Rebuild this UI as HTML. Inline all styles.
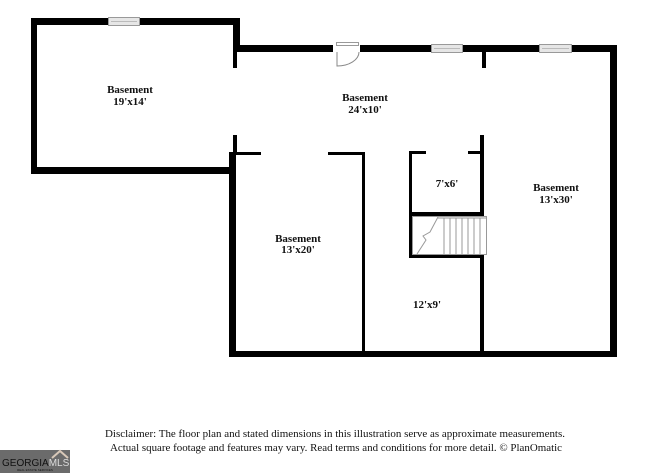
<!DOCTYPE html>
<html><head><meta charset="utf-8"><style>
body{margin:0;background:#fff;}
svg{display:block;}
text{font-family:"Liberation Serif",serif;fill:#111;}
</style></head><body>
<svg width="650" height="473" viewBox="0 0 650 473" xmlns="http://www.w3.org/2000/svg">
<g fill="#000">
<rect x="31" y="18" width="209" height="7"/>
<rect x="31" y="18" width="6" height="156"/>
<rect x="31" y="167" width="205" height="7"/>
<rect x="233" y="18" width="7" height="34"/>
<rect x="233" y="45" width="4" height="23"/>
<rect x="233" y="135" width="4" height="20"/>
<rect x="233" y="45" width="384" height="7"/>
<rect x="610" y="45" width="7" height="312"/>
<rect x="482" y="52" width="4" height="16"/>
<rect x="229" y="152" width="7" height="205"/>
<rect x="229" y="351" width="388" height="6"/>
<rect x="236" y="152" width="25" height="3"/>
<rect x="328" y="152" width="37" height="3"/>
<rect x="362" y="152" width="3" height="200"/>
<rect x="409" y="151" width="3" height="107"/>
<rect x="409" y="151" width="17" height="3"/>
<rect x="468" y="151" width="16" height="3"/>
<rect x="480" y="135" width="4" height="81"/>
<rect x="409" y="212" width="75" height="4"/>
<rect x="409" y="254" width="75" height="4"/>
<rect x="480" y="254" width="4" height="98"/>
</g>
<g fill="#e6e6e6" stroke="#999" stroke-width="1">
<rect x="108.5" y="17.5" width="31" height="8"/>
<rect x="431.5" y="44.5" width="31" height="8"/>
<rect x="539.5" y="44.5" width="32" height="8"/>
</g>
<g stroke="#bbb" stroke-width="1">
<line x1="111" y1="21.5" x2="137" y2="21.5"/>
<line x1="434" y1="48.5" x2="460" y2="48.5"/>
<line x1="542" y1="48.5" x2="569" y2="48.5"/>
</g>
<rect x="333" y="44" width="27" height="9" fill="#fff"/>
<rect x="336.5" y="42.5" width="22" height="3" fill="#fff" stroke="#999" stroke-width="1"/>
<path d="M337 52 L337 66 A22 14 0 0 0 359 52" fill="none" stroke="#888" stroke-width="1"/>
<g stroke="#999" stroke-width="1" fill="none">
<rect x="412.5" y="216.5" width="74" height="38"/>
<line x1="438" y1="218" x2="486" y2="218"/>
<line x1="444" y1="218" x2="444" y2="254"/>
<line x1="450" y1="218" x2="450" y2="254"/>
<line x1="456" y1="218" x2="456" y2="254"/>
<line x1="462" y1="218" x2="462" y2="254"/>
<line x1="468" y1="218" x2="468" y2="254"/>
<line x1="474" y1="218" x2="474" y2="254"/>
<line x1="480" y1="218" x2="480" y2="254"/>
<path d="M417 254 L426 240 L423 236 L430 232 L438 217"/>
</g>
<rect x="409" y="216" width="3" height="42" fill="#000"/>
<g font-size="11" font-weight="bold" text-anchor="middle">
<text x="130" y="93">Basement</text><text x="130" y="105">19'x14'</text>
<text x="365" y="101">Basement</text><text x="365" y="113">24'x10'</text>
<text x="447" y="187">7'x6'</text>
<text x="556" y="191">Basement</text><text x="556" y="203">13'x30'</text>
<text x="298" y="242">Basement</text><text x="298" y="253">13'x20'</text>
<text x="427" y="308">12'x9'</text>
</g>
<g font-size="10.5" fill="#222">
<text x="105" y="437" textLength="460" lengthAdjust="spacingAndGlyphs">Disclaimer: The floor plan and stated dimensions in this illustration serve as approximate measurements.</text>
<text x="110" y="451" textLength="452" lengthAdjust="spacingAndGlyphs">Actual square footage and features may vary. Read terms and conditions for more detail. © PlanOmatic</text>
</g>
<rect x="0" y="450" width="70" height="23" fill="#6b6b6b"/>
<path d="M52 458 L60 451 L68 458" fill="none" stroke="#d8c8b8" stroke-width="2"/>
<text x="2" y="466" font-size="10" style="font-family:'Liberation Sans',sans-serif" fill="#fff">GEORGIA<tspan fill="#ddd">MLS</tspan></text>
<text x="35" y="471" font-size="3" text-anchor="middle" style="font-family:'Liberation Sans',sans-serif" fill="#ccc">REAL ESTATE SERVICES</text>
</svg>
</body></html>
